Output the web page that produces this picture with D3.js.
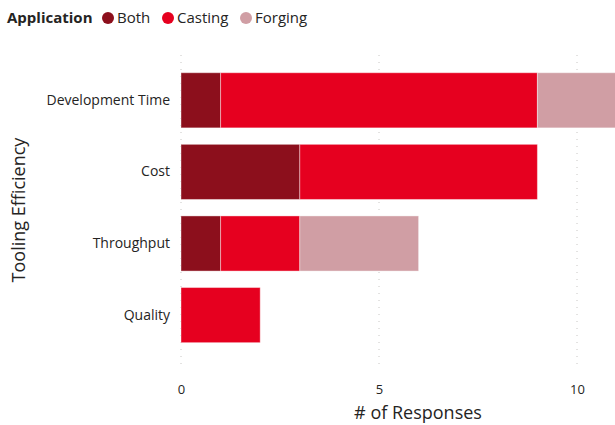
<!DOCTYPE html>
<html>
<head>
<meta charset="utf-8">
<script src="https://cdn.jsdelivr.net/npm/d3@7"></script>
<style>
  html, body { margin: 0; padding: 0; background: #fff; }
  svg { display: block; font-family: "Open Sans", "Noto Sans", sans-serif; }
</style>
</head>
<body>
<svg id="chart" width="615" height="425"></svg>
<script>
// Categories (top to bottom) and stacked series values
const categories = ["Development Time", "Cost", "Throughput", "Quality"];
const seriesNames = ["Both", "Casting", "Forging"];
const bothValues    = [1, 3, 1, 0];
const castingValues = [8, 6, 2, 2];
const forgingValues = [2, 0, 3, 0];
const xTicks = [0, 5, 10];
const colors = ["#8c0f1c", "#e6001f", "#d09ea4"];

const rows = categories.map((c, i) => ({
  category: c,
  Both: bothValues[i],
  Casting: castingValues[i],
  Forging: forgingValues[i]
}));

const svg = d3.select("#chart");

const x = d3.scaleLinear().domain([0, 10]).range([181, 577]);
const y = d3.scaleBand().domain(categories).range([57.7, 357.7])
  .paddingInner(0.23).paddingOuter(0.21);

// dotted vertical gridlines
svg.append("g").selectAll("line").data(xTicks).join("line")
  .attr("x1", d => x(d)).attr("x2", d => x(d))
  .attr("y1", 55).attr("y2", 369)
  .attr("stroke", "#c8c6c4").attr("stroke-width", 1)
  .attr("stroke-dasharray", "1,6");

// stacked bars
const stack = d3.stack().keys(seriesNames)(rows);
const color = d3.scaleOrdinal().domain(seriesNames).range(colors);

svg.append("g").selectAll("g").data(stack).join("g")
  .attr("fill", d => color(d.key))
  .selectAll("rect").data(d => d.filter(s => s[1] - s[0] > 0)).join("rect")
  .attr("x", d => x(d[0]))
  .attr("width", d => x(d[1]) - x(d[0]))
  .attr("y", d => y(d.data.category))
  .attr("height", y.bandwidth())
  .attr("stroke", "rgba(255,255,255,0.4)")
  .attr("stroke-width", 1);

// category labels
const yAxis = d3.axisLeft(y).tickSize(0).tickPadding(11);
const yg = svg.append("g").attr("transform", "translate(181,0)").call(yAxis);
yg.select(".domain").remove();
yg.selectAll("text").attr("font-size", 14).attr("fill", "#252423")
  .attr("font-family", "'Open Sans', sans-serif");

// x tick labels
const xAxis = d3.axisBottom(x).tickValues(xTicks).tickSize(0).tickPadding(0);
const xg = svg.append("g").attr("transform", "translate(0,385)").call(xAxis);
xg.select(".domain").remove();
xg.selectAll("text").attr("font-size", 13).attr("fill", "#252423")
  .attr("font-family", "'Open Sans', sans-serif");

// axis titles
svg.append("text").attr("x", 418).attr("y", 419)
  .attr("text-anchor", "middle").attr("font-size", 18).attr("fill", "#252423")
  .text("# of Responses");

svg.append("text").attr("transform", "translate(25,210) rotate(-90)")
  .attr("text-anchor", "middle").attr("font-size", 18).attr("fill", "#252423")
  .text("Tooling Efficiency");

// legend
const legend = svg.append("g");
legend.append("text").attr("x", 7).attr("y", 23)
  .attr("font-size", 15).attr("font-weight", "bold").attr("fill", "#252423")
  .text("Application");
const legendX = [108, 168, 246];
seriesNames.forEach((s, i) => {
  legend.append("circle").attr("cx", legendX[i]).attr("cy", 18).attr("r", 6)
    .attr("fill", colors[i]);
  legend.append("text").attr("x", legendX[i] + 9).attr("y", 23)
    .attr("font-size", 15).attr("fill", "#252423").text(s);
});
</script>
</body>
</html>
